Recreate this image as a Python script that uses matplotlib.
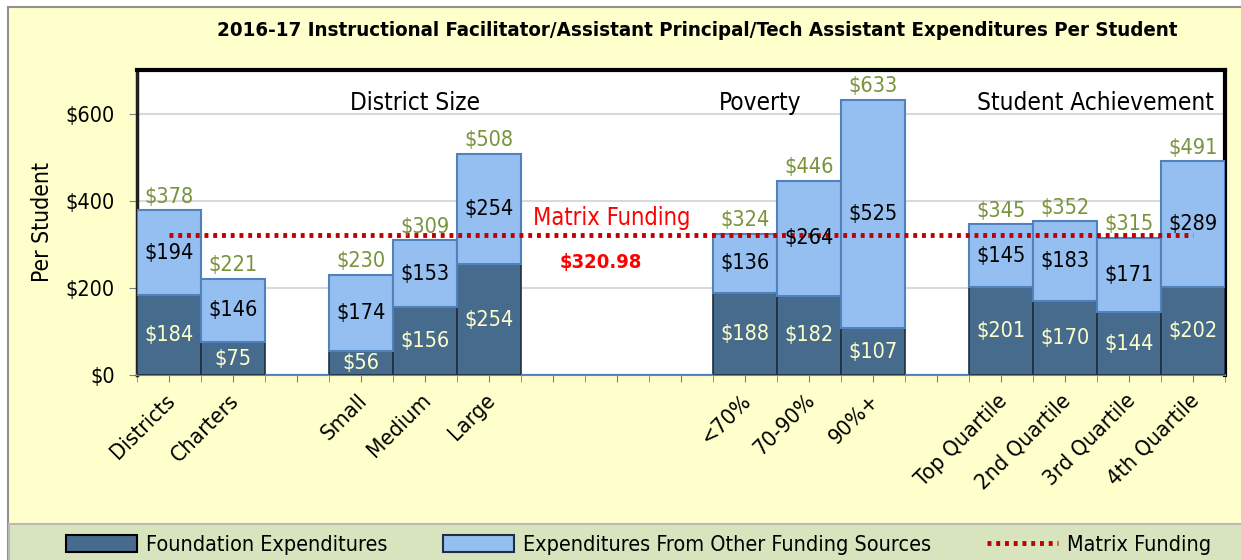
import matplotlib
matplotlib.use("Agg")
import matplotlib.pyplot as plt
from matplotlib import font_manager
import matplotlib.transforms as mtransforms
import numpy as np
from matplotlib.patches import Rectangle, Patch
from matplotlib.lines import Line2D

# use a condensed face if one is installed, else Liberation Sans
narrow = None
for f in font_manager.fontManager.ttflist:
    if f.stretch in ('condensed', 'semi-condensed', 'extra-condensed') or 'Narrow' in f.name:
        narrow = f.name
        break
if narrow:
    plt.rcParams['font.family'] = [narrow, 'DejaVu Sans']
    plt.rcParams['font.stretch'] = 'condensed'
else:
    plt.rcParams['font.family'] = ['Liberation Sans', 'DejaVu Sans']

categories = ['Districts', 'Charters', '', 'Small', 'Medium', 'Large', '', '', '',
              '<70%', '70-90%', '90%+', '', 'Top Quartile', '2nd Quartile',
              '3rd Quartile', '4th Quartile']
foundation = [184, 75, 0, 56, 156, 254, 0, 0, 0, 188, 182, 107, 0, 201, 170, 144, 202]
other = [194, 146, 0, 174, 153, 254, 0, 0, 0, 136, 264, 525, 0, 145, 183, 171, 289]
totals = [378, 221, None, 230, 309, 508, None, None, None, 324, 446, 633, None,
          345, 352, 315, 491]
matrix_funding = 320.98
group_labels = ['District Size', 'Poverty', 'Student Achievement']

dark = '#466b8c'
light = '#95bff0'
green = '#77933c'

fig = plt.figure(figsize=(12.41, 5.6), dpi=100)
fig.patch.set_facecolor('white')
# chart frame and legend band
fig.patches.append(Rectangle((0.0065, -0.01), 1.0, 0.9975, transform=fig.transFigure,
                             facecolor='#ffffcc', edgecolor='#909090', lw=1.5,
                             zorder=-3))
fig.patches.append(Rectangle((0.0075, -0.01), 1.0, 0.0743, transform=fig.transFigure,
                             facecolor='#d7e4bd', edgecolor='#b8b8b8', lw=1.5,
                             zorder=-2))

ax = fig.add_axes([0.1104, 0.3304, 0.8766, 0.5446])
x = np.arange(len(categories))

ax.bar(x, foundation, width=1.0, color=dark, edgecolor='#1f2f3f', lw=1.2, zorder=3)
ax.bar(x, other, bottom=foundation, width=1.0, color=light, edgecolor='#4f81bd',
       lw=1.5, zorder=3)

# matrix funding line from first to last category
ax.plot([x[0], x[-1]], [matrix_funding, matrix_funding], color='#c00000', lw=3.5,
        ls=(0, (0.8, 1.0)), zorder=4)
ax.text(6.92, 360, 'Matrix Funding', color='#ff0000', fontsize=17, ha='center',
        va='center', zorder=5)
ax.text(6.75, 259, '$320.98', color='#ff0000', fontsize=14.5, fontweight='bold',
        ha='center', va='center', zorder=5)

for i in range(len(categories)):
    if totals[i] is None:
        continue
    ax.text(x[i], foundation[i] / 2, f'${foundation[i]}', color='#ffffcc',
            fontsize=15.5, ha='center', va='center', zorder=5)
    ax.text(x[i], foundation[i] + other[i] / 2, f'${other[i]}', color='black',
            fontsize=15.5, ha='center', va='center', zorder=5)
    ax.text(x[i], totals[i] + 8, f'${totals[i]}', color=green, fontsize=15.5,
            ha='center', va='bottom', zorder=5)

ax.text(3.85, 652, group_labels[0], fontsize=17.5, ha='center', va='top')
ax.text(9.23, 652, group_labels[1], fontsize=17.5, ha='center', va='top')
ax.text(16.33, 652, group_labels[2], fontsize=17.5, ha='right', va='top')

ax.set_xlim(-0.5, len(categories) - 0.5)
ax.set_ylim(0, 700)
ax.set_yticks([0, 200, 400, 600])
ax.set_yticklabels(['$0', '$200', '$400', '$600'], fontsize=15.5)
ax.set_ylabel('Per Student', fontsize=16.5, labelpad=8)
ax.yaxis.grid(True, color='#d9d9d9', lw=1.5, zorder=0)
ax.set_axisbelow(True)

ax.set_xticks(x)
ax.set_xticklabels(categories, rotation=45, ha='right', rotation_mode='anchor',
                   fontsize=16)
ax.set_xticks(np.arange(-0.5, len(categories), 0.5), minor=True)
ax.tick_params(axis='x', which='both', length=5, color='#808080', direction='out')
ax.tick_params(axis='x', which='major', pad=6)
for lab in ax.get_xticklabels():
    lab.set_transform(lab.get_transform() + mtransforms.ScaledTranslation(
        -0.04, 0, fig.dpi_scale_trans))
ax.tick_params(axis='y', length=6, color='#808080', pad=10)

ax.set_facecolor('white')
ax.spines['top'].set_color('black')
ax.spines['top'].set_linewidth(3)
ax.spines['right'].set_color('black')
ax.spines['right'].set_linewidth(3)
ax.spines['left'].set_color('#202020')
ax.spines['left'].set_linewidth(2.5)
ax.spines['bottom'].set_color('#808080')
ax.spines['bottom'].set_linewidth(1.5)

fig.text(0.5615, 0.945, '2016-17 Instructional Facilitator/Assistant Principal/Tech Assistant Expenditures Per Student',
         fontsize=14.7, fontweight='bold', ha='center', va='center')

handles = [Patch(facecolor=dark, edgecolor='black', lw=1.5),
           Patch(facecolor=light, edgecolor='#1f2f3f', lw=1.5),
           Line2D([0], [0], color='#c00000', lw=3.5, ls=(0, (0.8, 1.0)))]
fig.legend(handles, ['Foundation Expenditures', 'Expenditures From Other Funding Sources',
                     'Matrix Funding'],
           loc='center', bbox_to_anchor=(0.5145, 0.027), ncol=3, frameon=False,
           fontsize=15.5, handlelength=3.3, handleheight=0.8, columnspacing=2.6,
           handletextpad=0.4)

fig.savefig('out.png', dpi=100, facecolor=fig.get_facecolor())
